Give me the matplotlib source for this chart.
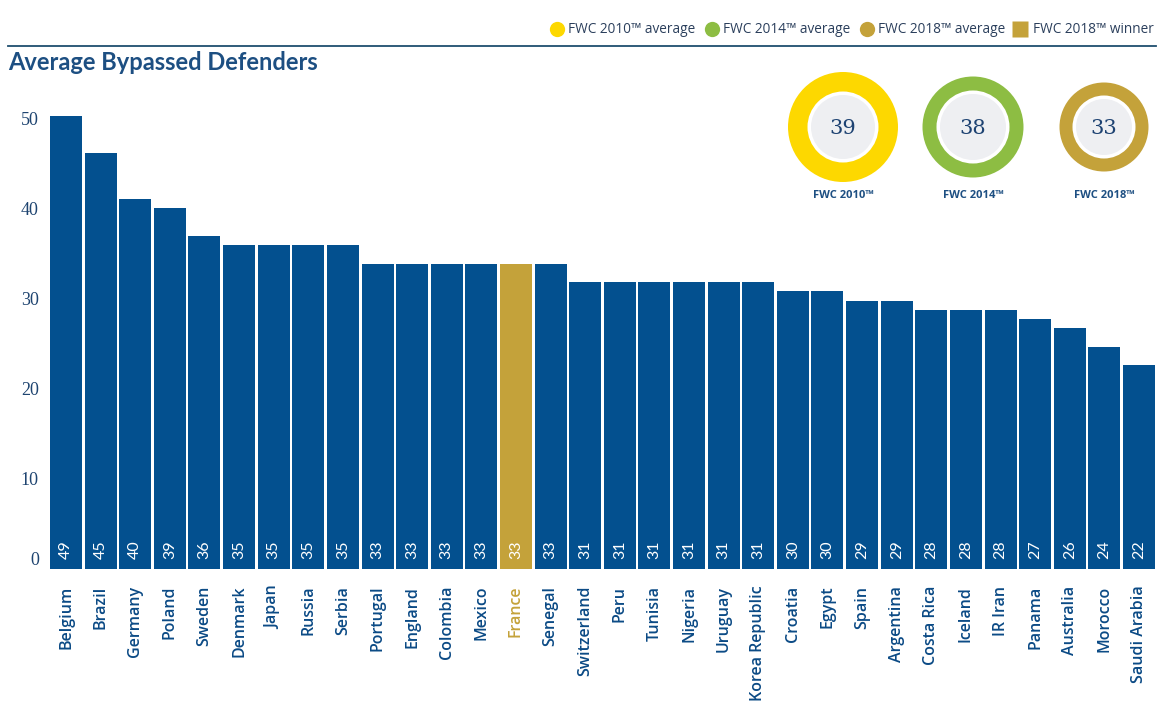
import matplotlib
matplotlib.use("Agg")
import matplotlib.pyplot as plt
from matplotlib.patches import Circle

teams = ["Belgium", "Brazil", "Germany", "Poland", "Sweden", "Denmark", "Japan",
         "Russia", "Serbia", "Portugal", "England", "Colombia", "Mexico", "France",
         "Senegal", "Switzerland", "Peru", "Tunisia", "Nigeria", "Uruguay",
         "Korea Republic", "Croatia", "Egypt", "Spain", "Argentina", "Costa Rica",
         "Iceland", "IR Iran", "Panama", "Australia", "Morocco", "Saudi Arabia"]
# bar heights as drawn in the source, and the rounded numbers printed on them
bar_heights = [50.25, 46.15, 41.0, 40.05, 36.95, 35.9, 35.9, 35.9, 35.9,
               33.8, 33.8, 33.8, 33.8, 33.8, 33.8,
               31.8, 31.8, 31.8, 31.8, 31.8, 31.8,
               30.8, 30.8, 29.7, 29.7, 28.7, 28.7, 28.7, 27.7, 26.7, 24.6, 22.6]
bar_labels = [49, 45, 40, 39, 36, 35, 35, 35, 35, 33, 33, 33, 33, 33, 33,
              31, 31, 31, 31, 31, 31, 30, 30, 29, 29, 28, 28, 28, 27, 26, 24, 22]
winner = "France"

tournaments = ["FWC 2010\u2122", "FWC 2014\u2122", "FWC 2018\u2122"]
tournament_avg = [39, 38, 33]

BLUE = "#03508f"
GOLD = "#c4a23a"
YELLOW = "#fdd800"
GREEN = "#8dbd43"
DARK = "#1d4272"
ring_colors = [YELLOW, GREEN, GOLD]

W, H = 1176, 719
fig = plt.figure(figsize=(W / 100, H / 100), dpi=100)
fig.patch.set_facecolor("white")

# main bar axes, placed in pixel terms
left_px, right_px, zero_px, top_px = 50, 1155, 569, 113.5
ax = fig.add_axes([left_px / W, (H - zero_px) / H,
                   (right_px - left_px) / W, (zero_px - top_px) / H])
width = 0.925
x = list(range(len(teams)))
colors = [GOLD if t == winner else BLUE for t in teams]
ax.bar(x, bar_heights, width=width, color=colors, linewidth=0)
ax.set_xlim(-width / 2, len(teams) - 1 + width / 2)
ax.set_ylim(0, 50.5)

for xi, lab in zip(x, bar_labels):
    ax.annotate(str(lab), (xi, 0), xytext=(0, 7), textcoords="offset points",
                rotation=90, ha="center", va="bottom", color="white",
                fontsize=11.5, family="Lato")

ax.set_xticks(x)
ax.set_xticklabels(teams, rotation=90, ha="center", va="top",
                   fontsize=11.5, family="Open Sans", weight="semibold")
for lbl, t in zip(ax.get_xticklabels(), teams):
    lbl.set_color(GOLD if t == winner else "#0b4a85")
ax.set_yticks(range(0, 51, 10))
ax.set_yticklabels([str(v) for v in range(0, 51, 10)], family="Liberation Serif",
                   fontsize=13, color="#1e4470")
for lbl in ax.get_yticklabels():
    lbl.set_va("bottom" if lbl.get_text() == "0" else "center_baseline")
ax.tick_params(axis="both", length=0)
ax.tick_params(axis="x", pad=12)
ax.tick_params(axis="y", pad=8)
for s in ax.spines.values():
    s.set_visible(False)

# overlay in pixel coordinates for header, legend and rings
ov = fig.add_axes([0, 0, 1, 1], zorder=5)
ov.set_xlim(0, W)
ov.set_ylim(H, 0)
ov.axis("off")
ov.patch.set_alpha(0)

ov.plot([8, 1156], [45.5, 45.5], color="#1f4e6e", lw=1.3)
ov.text(8, 63, "Average Bypassed Defenders", fontsize=17, weight="bold",
        family="Lato", color="#1d4f82", ha="left", va="center")

# legend
leg_items = [("FWC 2010\u2122 average", YELLOW, "o"),
             ("FWC 2014\u2122 average", GREEN, "o"),
             ("FWC 2018\u2122 average", GOLD, "o"),
             ("FWC 2018\u2122 winner", GOLD, "s")]
leg_x = [557, 712, 867, 1020]
for (txt, c, m), lx in zip(leg_items, leg_x):
    ov.plot(lx, 29, marker=m, ms=11 if m == "o" else 12, color=c, mec="none")
    ov.text(lx + (11 if m == "o" else 13), 29.5, txt, fontsize=9.8,
            family="Open Sans", color="#2b3f5c", ha="left", va="center")

# tournament average rings
centers = [843, 973, 1104]
outer_r = [55, 50.5, 44.5]
inner_r = [32, 33, 28]
for cx, ro, ri, col, name, val in zip(centers, outer_r, inner_r, ring_colors,
                                      tournaments, tournament_avg):
    ov.add_patch(Circle((cx, 127), ro, color=col, lw=0))
    ov.add_patch(Circle((cx, 127), ri + 3.5, color="white", lw=0))
    ov.add_patch(Circle((cx, 127), ri, color="#eeeff2", lw=0))
    ov.text(cx, 128, str(val), fontsize=15, family="DejaVu Serif",
            color=DARK, ha="center", va="center")
    ov.text(cx, 196, name, fontsize=8, weight="bold", family="Open Sans",
            color="#1d4f82", ha="center", va="center")

fig.savefig("out.png", dpi=100, facecolor="white")
